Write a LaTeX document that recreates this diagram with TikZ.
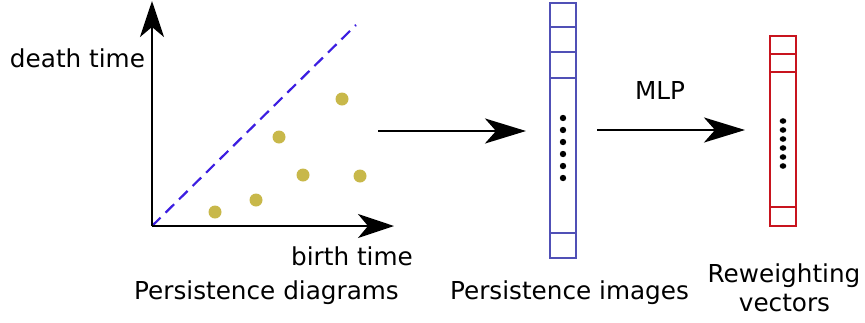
\documentclass[tikz,border=0pt]{standalone}
\usepackage{fontspec}
\setmainfont{DejaVu Sans}
\usetikzlibrary{arrows.meta}
\definecolor{dotyellow}{RGB}{200,184,74}
\definecolor{diagblue}{RGB}{60,30,225}
\definecolor{vecblue}{RGB}{80,80,182}
\definecolor{vecred}{RGB}{200,20,30}
\begin{document}
\begin{tikzpicture}[x=1pt,y=-1pt,
  label/.style={inner sep=0pt,anchor=base,font=\fontsize{24.7}{30}\selectfont},
  axis/.style={line width=2.7pt,-{Stealth[length=36pt,width=24pt,inset=10pt]}},
  flow/.style={line width=2.7pt,-{Stealth[length=41pt,width=25pt,inset=11pt]}},
  pt/.style={circle,fill=dotyellow,inner sep=0pt,minimum size=13pt},
  vdot/.style={fill=black},
  cell/.style={line width=2.2pt}]
\useasboundingbox (0,0) rectangle (865,322);

% persistence diagram
\coordinate (o) at (152,226);
\coordinate (ytip) at (152,1);
\coordinate (xtip) at (394,226);
\coordinate (diag) at (356,25);
\draw[diagblue,line width=2.2pt,dash pattern=on 12pt off 7pt] (o) -- (diag);
\draw[axis] (o) -- (ytip);
\draw[axis] (o) -- (xtip);
\node[pt] (p1) at (215,212) {};
\node[pt] (p2) at (256,200) {};
\node[pt] (p3) at (279,137) {};
\node[pt] (p4) at (303,175) {};
\node[pt] (p5) at (342,99) {};
\node[pt] (p6) at (360,176) {};
\node[label] (dt) at (77.5,67) {death time};
\node[label] (bt) at (352,265) {birth time};
\node[label] (pd) at (266.5,299) {Persistence diagrams};

% persistence image vector
\draw[vecblue,cell] (550,3) rectangle (576,258);
\foreach \y in {27,52,78,233} \draw[vecblue,cell] (550,\y) -- (576,\y);
\foreach \y in {118,130,142,154,166,178} \fill[vdot] (563,\y) circle (3.2pt);
\node[label] (pi) at (569.5,299) {Persistence images};

% reweighting vector
\draw[vecred,cell] (770,36) rectangle (796,226);
\foreach \y in {54,72,207} \draw[vecred,cell] (770,\y) -- (796,\y);
\foreach \y in {121,130,139,148,157,166} \fill[vdot] (783,\y) ellipse (3.3pt and 2.8pt);
\node[label] (rw1) at (784,282) {Reweighting};
\node[label] (rw2) at (784.5,311.5) {vectors};

% flow arrows
\coordinate (a1s) at (378,131);
\coordinate (a1e) at (526,131);
\coordinate (a2s) at (597,130);
\coordinate (a2e) at (745,130);
\draw[flow] (a1s) -- (a1e);
\draw[flow] (a2s) -- (a2e);
\node[label] (mlp) at (660,99) {MLP};
\end{tikzpicture}
\end{document}
